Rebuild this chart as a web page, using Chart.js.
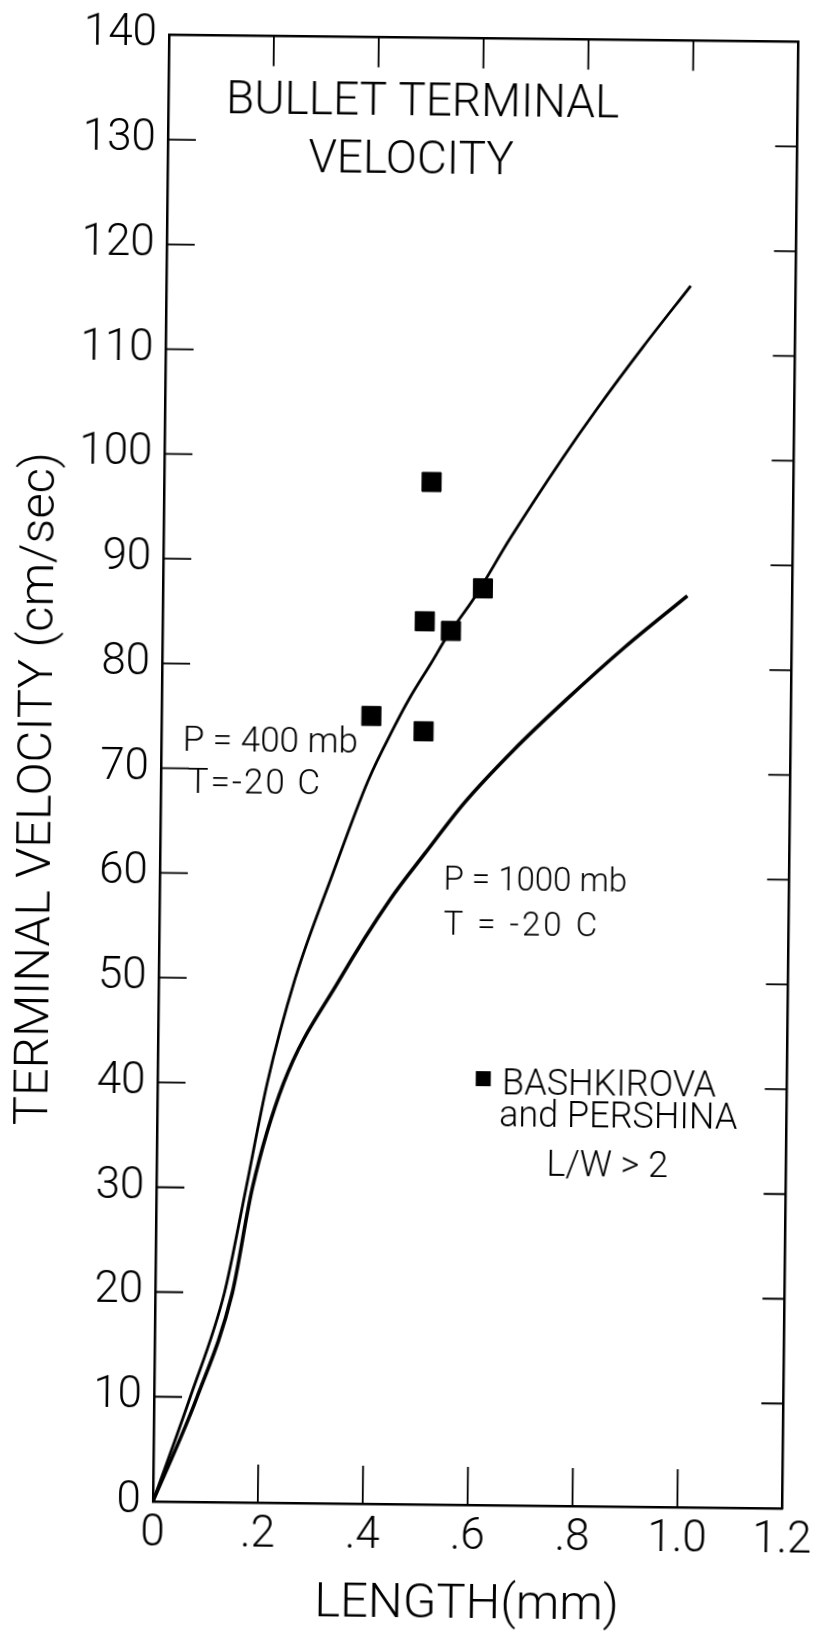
<!DOCTYPE html>
<html>
<head>
<meta charset="utf-8">
<script src="https://cdn.jsdelivr.net/npm/chart.js@4.4.1/dist/chart.umd.min.js"></script>
<style>
  html, body { margin: 0; padding: 0; background: #fff; }
  #wrap { position: relative; width: 827px; height: 1634px; overflow: hidden; background: #fff; }
  /* the printed sheet sits slightly askew */
  #c { display: block; transform: rotate(0.63deg); transform-origin: 481.4px 767.75px; }
</style>
</head>
<body>
<div id="wrap"><canvas id="c" width="827" height="1634"></canvas></div>
<script>
const FONT = 'Roboto, "Liberation Sans", Arial, sans-serif';
const WEIGHT = 300;

// Computed terminal velocity, P = 400 mb, T = -20 C
const length400   = [0, 0.069, 0.132, 0.171, 0.209, 0.26, 0.329, 0.395, 0.444, 0.471, 0.514, 0.542, 0.594, 0.661, 0.759, 0.823, 0.91, 1.0];
const velocity400 = [0, 10,    20,    30,    40,    50,   60,    69,    74.2,  76.8,  80.4,  82.8,  86.6,  92.3,  100.0, 104.7, 110.7, 116.6];

// Computed terminal velocity, P = 1000 mb, T = -20 C
const length1000   = [0, 0.082, 0.147, 0.183, 0.240, 0.345, 0.441, 0.506, 0.579, 0.672, 0.770, 0.881, 1.0];
const velocity1000 = [0, 10,    20,    30,    40,    50,    57.8,  62.2,  67.0,  72.1,  76.9,  82.0,  87.0];

// Bashkirova and Pershina measurements, L/W > 2
const obsLength   = [0.51, 0.61, 0.50, 0.55, 0.40, 0.50];
const obsVelocity = [97.6, 87.5, 84.3, 83.4, 75.2, 73.8];

// Axis ticks
const xTickValues = [0, 0.2, 0.4, 0.6, 0.8, 1.0, 1.2];
const xTickLabels = ['0', '.2', '.4', '.6', '.8', '1.0', '1.2'];
const yTickValues = [0, 10, 20, 30, 40, 50, 60, 70, 80, 90, 100, 110, 120, 130, 140];
const yTickLabels = ['0', '10', '20', '30', '40', '50', '60', '70', '80', '90', '100', '110', '120', '130', '140'];

const toPoints = (xs, ys) => xs.map((x, i) => ({ x: x, y: ys[i] }));

// Lettering placed in data coordinates
const notes = [
  { text: 'BULLET TERMINAL', x: 0.485, y: 133.7, align: 'center', size: 46, spacing: 0 },
  { text: 'VELOCITY',        x: 0.464, y: 128.2, align: 'center', size: 46, spacing: 0 },
  { text: 'P = 400 mb',      x: 0.041, y: 72.5,  align: 'left',   size: 35, spacing: 0 },
  { text: 'T=-20 C',         x: 0.051, y: 68.5,  align: 'left',   size: 35, spacing: 2 },
  { text: 'P = 1000 mb',     x: 0.541, y: 59.5,  align: 'left',   size: 33, spacing: 0 },
  { text: 'T = -20 C',       x: 0.542, y: 55.2,  align: 'left',   size: 33, spacing: 3 },
  { text: 'BASHKIROVA',      x: 0.657, y: 40.1,  align: 'left',   size: 36, spacing: 0 },
  { text: 'and PERSHINA',    x: 0.652, y: 37.0,  align: 'left',   size: 36, spacing: 0 },
  { text: 'L/W > 2',         x: 0.743, y: 32.4,  align: 'left',   size: 36, spacing: 0 }
];
const legendKey = { x: 0.621, y: 40.7, side: 15 };
const yTitle = { text: 'TERMINAL VELOCITY (cm/sec)', offset: 122, y: 67.9, size: 49 };

// Inward tick marks on all four sides, lettering, the vertical axis title and the legend key
const framePlugin = {
  id: 'frame',
  afterDatasetsDraw(chart) {
    const { ctx, chartArea: a, scales } = chart;
    const xs = scales.x, ys = scales.y;
    ctx.save();
    ctx.strokeStyle = '#000';
    ctx.lineWidth = 1.8;
    ctx.beginPath();
    xTickValues.forEach((v, i) => {
      if (i === 0 || i === xTickValues.length - 1) return;
      const px = xs.getPixelForValue(v);
      ctx.moveTo(px, a.bottom); ctx.lineTo(px, a.bottom - 38);
      ctx.moveTo(px, a.top);    ctx.lineTo(px, a.top + 30);
    });
    yTickValues.forEach((v, i) => {
      if (i === 0 || i === yTickValues.length - 1) return;
      const py = ys.getPixelForValue(v);
      ctx.moveTo(a.left, py);  ctx.lineTo(a.left + 28, py);
      ctx.moveTo(a.right, py); ctx.lineTo(a.right - 22, py);
    });
    ctx.stroke();

    ctx.fillStyle = '#000';
    ctx.textBaseline = 'middle';
    notes.forEach(n => {
      ctx.font = WEIGHT + ' ' + n.size + 'px ' + FONT;
      ctx.letterSpacing = n.spacing + 'px';
      ctx.textAlign = n.align;
      ctx.fillText(n.text, xs.getPixelForValue(n.x), ys.getPixelForValue(n.y));
    });

    ctx.save();
    ctx.translate(a.left - yTitle.offset, ys.getPixelForValue(yTitle.y));
    ctx.rotate(-Math.PI / 2);
    ctx.font = WEIGHT + ' ' + yTitle.size + 'px ' + FONT;
    ctx.letterSpacing = '0px';
    ctx.textAlign = 'center';
    ctx.fillText(yTitle.text, 0, 0);
    ctx.restore();

    const kx = xs.getPixelForValue(legendKey.x), ky = ys.getPixelForValue(legendKey.y);
    ctx.fillRect(kx - legendKey.side / 2, ky - legendKey.side / 2, legendKey.side, legendKey.side);
    ctx.restore();
  }
};

const axisBorder = { display: true, width: 2.5, color: '#000' };
const noGrid = { display: false, drawTicks: false };

new Chart(document.getElementById('c'), {
  type: 'scatter',
  data: {
    datasets: [
      {
        label: 'P = 400 mb, T = -20 C',
        data: toPoints(length400, velocity400),
        showLine: true, fill: false,
        borderColor: '#000', borderWidth: 2.8,
        pointRadius: 0, cubicInterpolationMode: 'monotone'
      },
      {
        label: 'P = 1000 mb, T = -20 C',
        data: toPoints(length1000, velocity1000),
        showLine: true, fill: false,
        borderColor: '#000', borderWidth: 3.6,
        pointRadius: 0, cubicInterpolationMode: 'monotone'
      },
      {
        label: 'BASHKIROVA and PERSHINA',
        data: toPoints(obsLength, obsVelocity),
        showLine: false,
        pointStyle: 'rect', pointRadius: 13.5,
        backgroundColor: '#000', borderColor: '#000', borderWidth: 1
      }
    ]
  },
  options: {
    responsive: false,
    animation: false,
    devicePixelRatio: 1,
    layout: { padding: 0 },
    plugins: { legend: { display: false }, tooltip: { enabled: false } },
    scales: {
      x: {
        type: 'linear', position: 'bottom', min: 0, max: 1.2,
        afterFit: s => { s.height = 129; },
        afterBuildTicks: s => { s.ticks = xTickValues.map(v => ({ value: v })); },
        ticks: {
          autoSkip: false, maxRotation: 0, padding: 7, color: '#000',
          font: { family: FONT, size: 44, weight: WEIGHT },
          callback: (v, i) => xTickLabels[i]
        },
        grid: noGrid,
        border: axisBorder,
        title: {
          display: true, text: 'LENGTH(mm)', color: '#000', padding: 0,
          font: { family: FONT, size: 49, weight: WEIGHT, lineHeight: 1.14 }
        }
      },
      xTop: {
        type: 'linear', position: 'top', min: 0, max: 1.2,
        afterFit: s => { s.height = 30.5; },
        ticks: { display: false },
        grid: noGrid,
        border: axisBorder
      },
      y: {
        type: 'linear', position: 'left', min: 0, max: 140,
        afterFit: s => { s.width = 161; },
        afterBuildTicks: s => { s.ticks = yTickValues.map(v => ({ value: v })); },
        ticks: {
          autoSkip: false, padding: 12, color: '#000',
          font: { family: FONT, size: 44, weight: WEIGHT },
          callback: (v, i) => yTickLabels[i]
        },
        grid: noGrid,
        border: axisBorder
      },
      yRight: {
        type: 'linear', position: 'right', min: 0, max: 140,
        afterFit: s => { s.width = 25; },
        ticks: { display: false },
        grid: noGrid,
        border: axisBorder
      }
    }
  },
  plugins: [framePlugin]
});
</script>
</body>
</html>
